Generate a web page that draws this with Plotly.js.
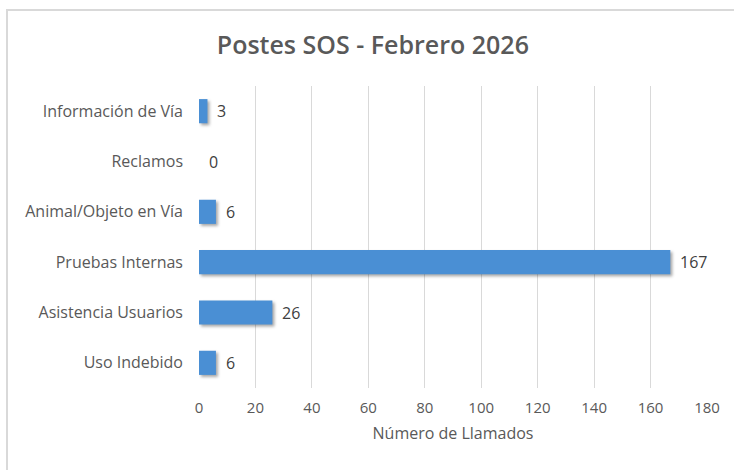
<!DOCTYPE html>
<html>
<head>
<meta charset="utf-8">
<script src="https://cdn.plot.ly/plotly-3.0.1.min.js"></script>
<style>
  html, body { margin: 0; padding: 0; background: #fff; }
  #wrap { position: relative; width: 734px; height: 470px; overflow: hidden; }
  #frame { position: absolute; left: 6px; top: 9px; width: 740px; height: 480px;
           border-left: 2px solid #d9d9d9; border-top: 2px solid #d9d9d9; pointer-events: none; z-index: 2; }
  #chart { position: absolute; left: 0; top: 0; width: 734px; height: 470px; }
  .barlayer .point path { filter: drop-shadow(2px 2px 1.5px rgba(0,0,0,0.35)); }
</style>
</head>
<body>
<div id="wrap"><div id="frame"></div><div id="chart"></div></div>
<script>
const categories = ["Información de Vía", "Reclamos", "Animal/Objeto en Vía", "Pruebas Internas", "Asistencia Usuarios", "Uso Indebido"];
const values = [3, 0, 6, 167, 26, 6];
const xTicks = [0, 20, 40, 60, 80, 100, 120, 140, 160, 180];

const FONT = "'Open Sans', sans-serif";
const trace = {
  type: "bar",
  orientation: "h",
  y: categories,
  x: values,
  width: 0.48,
  marker: { color: "#4a8fd4", line: { width: 0 } },
  hoverinfo: "none"
};

const annotations = categories.map((c, i) => ({
  x: values[i], y: c, xref: "x", yref: "y",
  text: String(values[i]), showarrow: false,
  xanchor: "left", xshift: 8,
  font: { family: FONT, size: 16, color: "#404040" }
}));

const layout = {
  width: 734, height: 470,
  margin: { l: 199, r: 27, t: 86, b: 82 },
  paper_bgcolor: "rgba(0,0,0,0)",
  plot_bgcolor: "#fff",
  showlegend: false,
  title: { text: "Postes SOS - Febrero 2026", x: 0.508, xanchor: "center", y: 0.904, yanchor: "middle",
           font: { family: FONT, size: 25, color: "#595959", weight: 600 } },
  xaxis: {
    range: [0, 180], tickvals: xTicks, ticktext: xTicks.map(String),
    showgrid: true, gridcolor: "#d9d9d9", gridwidth: 1,
    zeroline: false, showline: false, ticks: "", ticklabelstandoff: 9,
    tickfont: { family: FONT, size: 15, color: "#595959" },
    title: { text: "Número de Llamados", standoff: 11, font: { family: FONT, size: 16, color: "#595959" } },
    fixedrange: true
  },
  yaxis: {
    autorange: "reversed", showgrid: false, zeroline: false, showline: false, ticks: "",
    ticklabelstandoff: 15,
    tickfont: { family: FONT, size: 16, color: "#595959" },
    fixedrange: true
  },
  annotations: annotations
};

Plotly.newPlot("chart", [trace], layout, { displayModeBar: false, staticPlot: true });
</script>
</body>
</html>
